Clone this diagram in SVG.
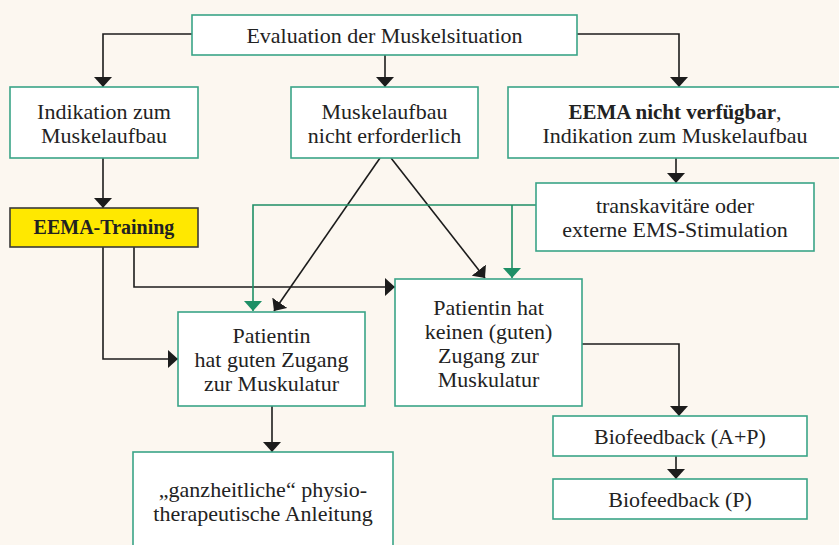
<svg xmlns="http://www.w3.org/2000/svg" width="839" height="545" viewBox="0 0 839 545">
<defs>
<style>
.box{fill:#ffffff;stroke:#3aa488;stroke-width:1.6}
.yel{fill:#ffe800;stroke:#3a3a3a;stroke-width:1.6}
.t{font-family:"Liberation Serif","DejaVu Serif",serif;font-size:22px;fill:#222;text-anchor:middle}
.b{font-weight:bold;font-size:21px}
.c{fill:none;stroke:#1c1c1c;stroke-width:1.6}
.g{fill:none;stroke:#1e8f66;stroke-width:1.6}
</style>
<marker id="ah" viewBox="0 0 10 18" refX="10" refY="9" markerWidth="10" markerHeight="18" markerUnits="userSpaceOnUse" orient="auto">
<path d="M0,0 L10,9 L0,18 Z" fill="#1c1c1c"/>
</marker>
<marker id="ag" viewBox="0 0 10 18" refX="10" refY="9" markerWidth="10" markerHeight="18" markerUnits="userSpaceOnUse" orient="auto">
<path d="M0,0 L10,9 L0,18 Z" fill="#1e8f66"/>
</marker>
</defs>
<rect x="0" y="0" width="839" height="545" fill="#fcf7f0"/>
<g id="connectors">
<path class="c" d="M192,34 H103 V87" marker-end="url(#ah)"/>
<path class="c" d="M385,55 V87" marker-end="url(#ah)"/>
<path class="c" d="M577,34 H679 V87" marker-end="url(#ah)"/>
<path class="c" d="M103,158 V208" marker-end="url(#ah)"/>
<path class="c" d="M676,158 V183" marker-end="url(#ah)"/>
<path class="c" d="M103,247 V359 H178" marker-end="url(#ah)"/>
<path class="c" d="M134,247 V287 H395" marker-end="url(#ah)"/>
<path class="c" d="M380,158 L274,311" marker-end="url(#ah)"/>
<path class="c" d="M391,158 L485,278" marker-end="url(#ah)"/>
<path class="g" d="M536,205 H253 V311" marker-end="url(#ag)"/>
<path class="g" d="M512,205 V278" marker-end="url(#ag)"/>
<path class="c" d="M272,406 V452" marker-end="url(#ah)"/>
<path class="c" d="M582,344 H679 V416" marker-end="url(#ah)"/>
<path class="c" d="M676,456 V479" marker-end="url(#ah)"/>
</g>
<g id="n-eval">
<rect class="box" x="192" y="15" width="385" height="40"/>
<text class="t" x="384.5" y="43">Evaluation der Muskelsituation</text>
</g>
<g id="n-indikation">
<rect class="box" x="10" y="87" width="188" height="71"/>
<text class="t" x="104" y="119">Indikation zum</text>
<text class="t" x="104" y="143">Muskelaufbau</text>
</g>
<g id="n-nicht-erforderlich">
<rect class="box" x="291" y="87" width="187" height="71"/>
<text class="t" x="384.5" y="119">Muskelaufbau</text>
<text class="t" x="384.5" y="143">nicht erforderlich</text>
</g>
<g id="n-eema-nicht">
<rect class="box" x="508" y="87" width="340" height="71"/>
<text class="t" x="675" y="119"><tspan class="b">EEMA nicht verfügbar</tspan>,</text>
<text class="t" x="675" y="143">Indikation zum Muskelaufbau</text>
</g>
<g id="n-ems">
<rect class="box" x="536" y="183" width="278" height="68"/>
<text class="t" x="675" y="213">transkavitäre oder</text>
<text class="t" x="675" y="237">externe EMS-Stimulation</text>
</g>
<g id="n-eema-training">
<rect class="yel" x="10" y="208" width="188" height="39"/>
<text class="t b" x="104" y="234" style="font-size:20px">EEMA-Training</text>
</g>
<g id="n-guten">
<rect class="box" x="178" y="312" width="187" height="94"/>
<text class="t" x="271.5" y="343">Patientin</text>
<text class="t" x="271.5" y="367">hat guten Zugang</text>
<text class="t" x="271.5" y="391">zur Muskulatur</text>
</g>
<g id="n-keinen">
<rect class="box" x="395" y="279" width="187" height="127"/>
<text class="t" x="488.5" y="315">Patientin hat</text>
<text class="t" x="488.5" y="339">keinen (guten)</text>
<text class="t" x="488.5" y="363">Zugang zur</text>
<text class="t" x="488.5" y="387">Muskulatur</text>
</g>
<g id="n-ganzheitlich">
<rect class="box" x="133" y="452" width="260" height="110"/>
<text class="t" x="263" y="497">„ganzheitliche“ physio-</text>
<text class="t" x="263" y="521">therapeutische Anleitung</text>
</g>
<g id="n-bio-ap">
<rect class="box" x="553" y="416" width="254" height="40"/>
<text class="t" x="680" y="444">Biofeedback (A+P)</text>
</g>
<g id="n-bio-p">
<rect class="box" x="553" y="479" width="254" height="40"/>
<text class="t" x="680" y="507">Biofeedback (P)</text>
</g>
</svg>
